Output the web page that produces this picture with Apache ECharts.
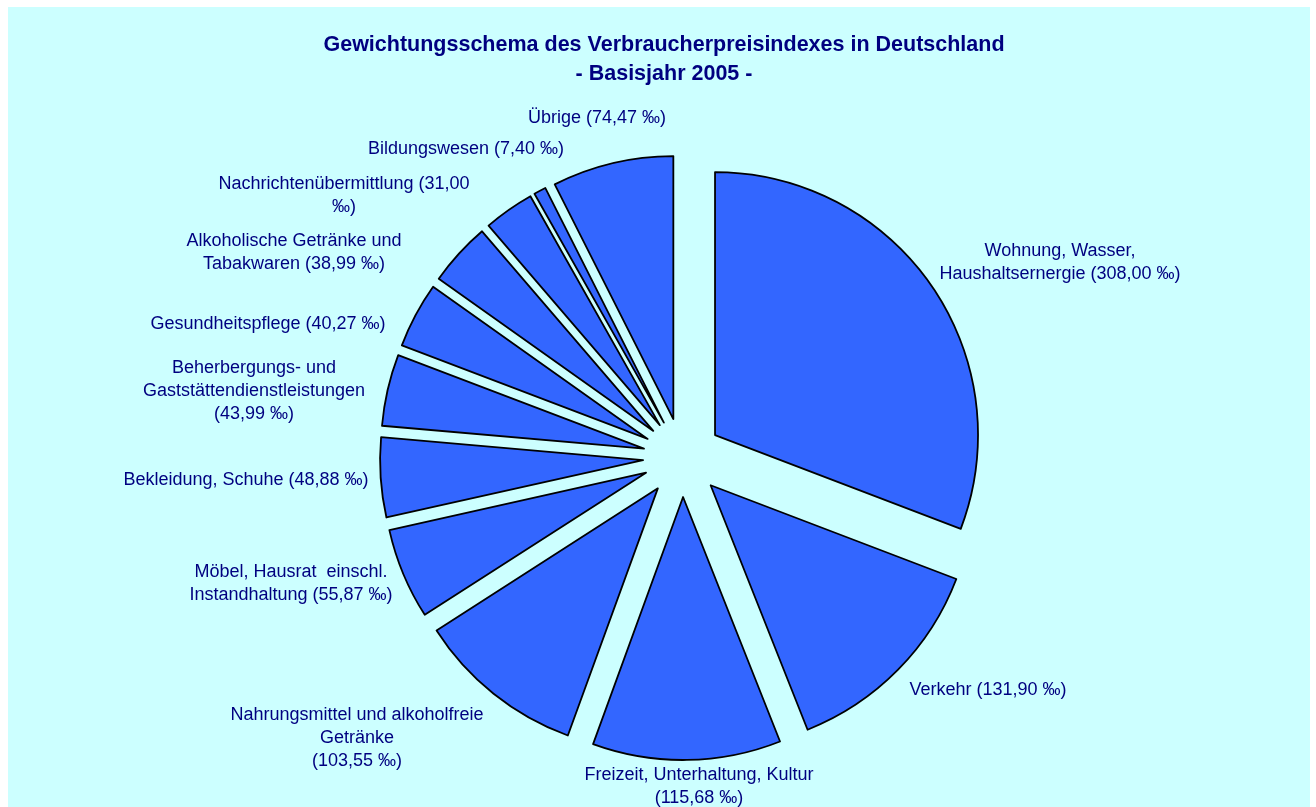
<!DOCTYPE html>
<html>
<head>
<meta charset="utf-8">
<title>Gewichtungsschema VPI 2005</title>
<script src="https://cdn.jsdelivr.net/npm/echarts@6/dist/echarts.min.js"></script>
<style>
    html, body {
        margin: 0;
        padding: 0;
        background: #fff;
    }
    #pie {
        position: absolute;
        left: 8px;
        top: 7px;
        width: 1302px;
        height: 800px;
    }
</style>
</head>
<body>
<div id="pie"></div>
<script>
// Wägungsanteile in Promille, im Uhrzeigersinn ab 12 Uhr
const categories = [
    'Wohnung, Wasser, Haushaltsernergie',
    'Verkehr',
    'Freizeit, Unterhaltung, Kultur',
    'Nahrungsmittel und alkoholfreie Getränke',
    'Möbel, Hausrat einschl. Instandhaltung',
    'Bekleidung, Schuhe',
    'Beherbergungs- und Gaststättendienstleistungen',
    'Gesundheitspflege',
    'Alkoholische Getränke und Tabakwaren',
    'Nachrichtenübermittlung',
    'Bildungswesen',
    'Übrige'
];
const values = [308.00, 131.90, 115.68, 103.55, 55.87, 48.88, 43.99, 40.27, 38.99, 31.00, 7.40, 74.47];
const labelTexts = [
    'Wohnung, Wasser,\nHaushaltsernergie (308,00 ‰)',
    'Verkehr (131,90 ‰)',
    'Freizeit, Unterhaltung, Kultur\n(115,68 ‰)',
    'Nahrungsmittel und alkoholfreie\nGetränke\n(103,55 ‰)',
    'Möbel, Hausrat  einschl.\nInstandhaltung (55,87 ‰)',
    'Bekleidung, Schuhe (48,88 ‰)',
    'Beherbergungs- und\nGaststättendienstleistungen\n(43,99 ‰)',
    'Gesundheitspflege (40,27 ‰)',
    'Alkoholische Getränke und\nTabakwaren (38,99 ‰)',
    'Nachrichtenübermittlung (31,00\n‰)',
    'Bildungswesen (7,40 ‰)',
    'Übrige (74,47 ‰)'
];

// Beschriftungsmitten (Layout, wie im Excel-Original)
const labelPos = [
    [1052, 256], [980, 683], [691, 780], [349, 731], [283, 577], [238, 473],
    [246, 384], [260, 317], [286, 246], [336, 189], [458, 142], [589, 111]
];

const font = "'Liberation Sans', Arial, sans-serif";
const pieCenter = [674.5, 450.5];
const sliceStyle = {
    color: '#3366FF',
    borderColor: '#000',
    borderWidth: 1.8
};

let chart = echarts.init(document.getElementById('pie'));
let option = {
    backgroundColor: '#CCFFFF',
    animation: false,
    title: {
        text: 'Gewichtungsschema des Verbraucherpreisindexes in Deutschland\n- Basisjahr 2005 -',
        left: 651,
        top: 19,
        textAlign: 'center',
        textStyle: {
            fontFamily: font,
            fontSize: 21.5,
            fontWeight: 'bold',
            color: '#000080',
            lineHeight: 29,
            align: 'center'
        }
    },
    series: [
        // explodierte Tortenstücke
        {
            name: 'Gewichtung',
            type: 'pie',
            center: pieCenter,
            radius: 263,
            startAngle: 90,
            clockwise: true,
            selectedMode: 'multiple',
            selectedOffset: 39.5,
            itemStyle: sliceStyle,
            select: { itemStyle: sliceStyle },
            emphasis: { disabled: true },
            label: { show: false },
            labelLine: { show: false },
            data: categories.map(function(name, i) {
                return { name: name, value: values[i], selected: true };
            })
        },
        // nur für die Beschriftungen (unsichtbar)
        {
            name: 'Beschriftung',
            type: 'pie',
            center: pieCenter,
            radius: 263,
            startAngle: 90,
            clockwise: true,
            silent: true,
            avoidLabelOverlap: false,
            itemStyle: { color: 'rgba(0,0,0,0)', borderWidth: 0 },
            emphasis: { disabled: true },
            label: {
                show: true,
                position: 'outside',
                formatter: function(p) {
                    return labelTexts[p.dataIndex];
                },
                fontFamily: font,
                fontSize: 18,
                lineHeight: 23,
                color: '#000080',
                align: 'center'
            },
            labelLine: { show: false },
            labelLayout: function(params) {
                let pos = labelPos[params.dataIndex];
                return {
                    x: pos[0],
                    y: pos[1],
                    align: 'center',
                    verticalAlign: 'middle'
                };
            },
            data: categories.map(function(name, i) {
                return { name: name, value: values[i] };
            })
        }
    ]
};
chart.setOption(option);
</script>
</body>
</html>
